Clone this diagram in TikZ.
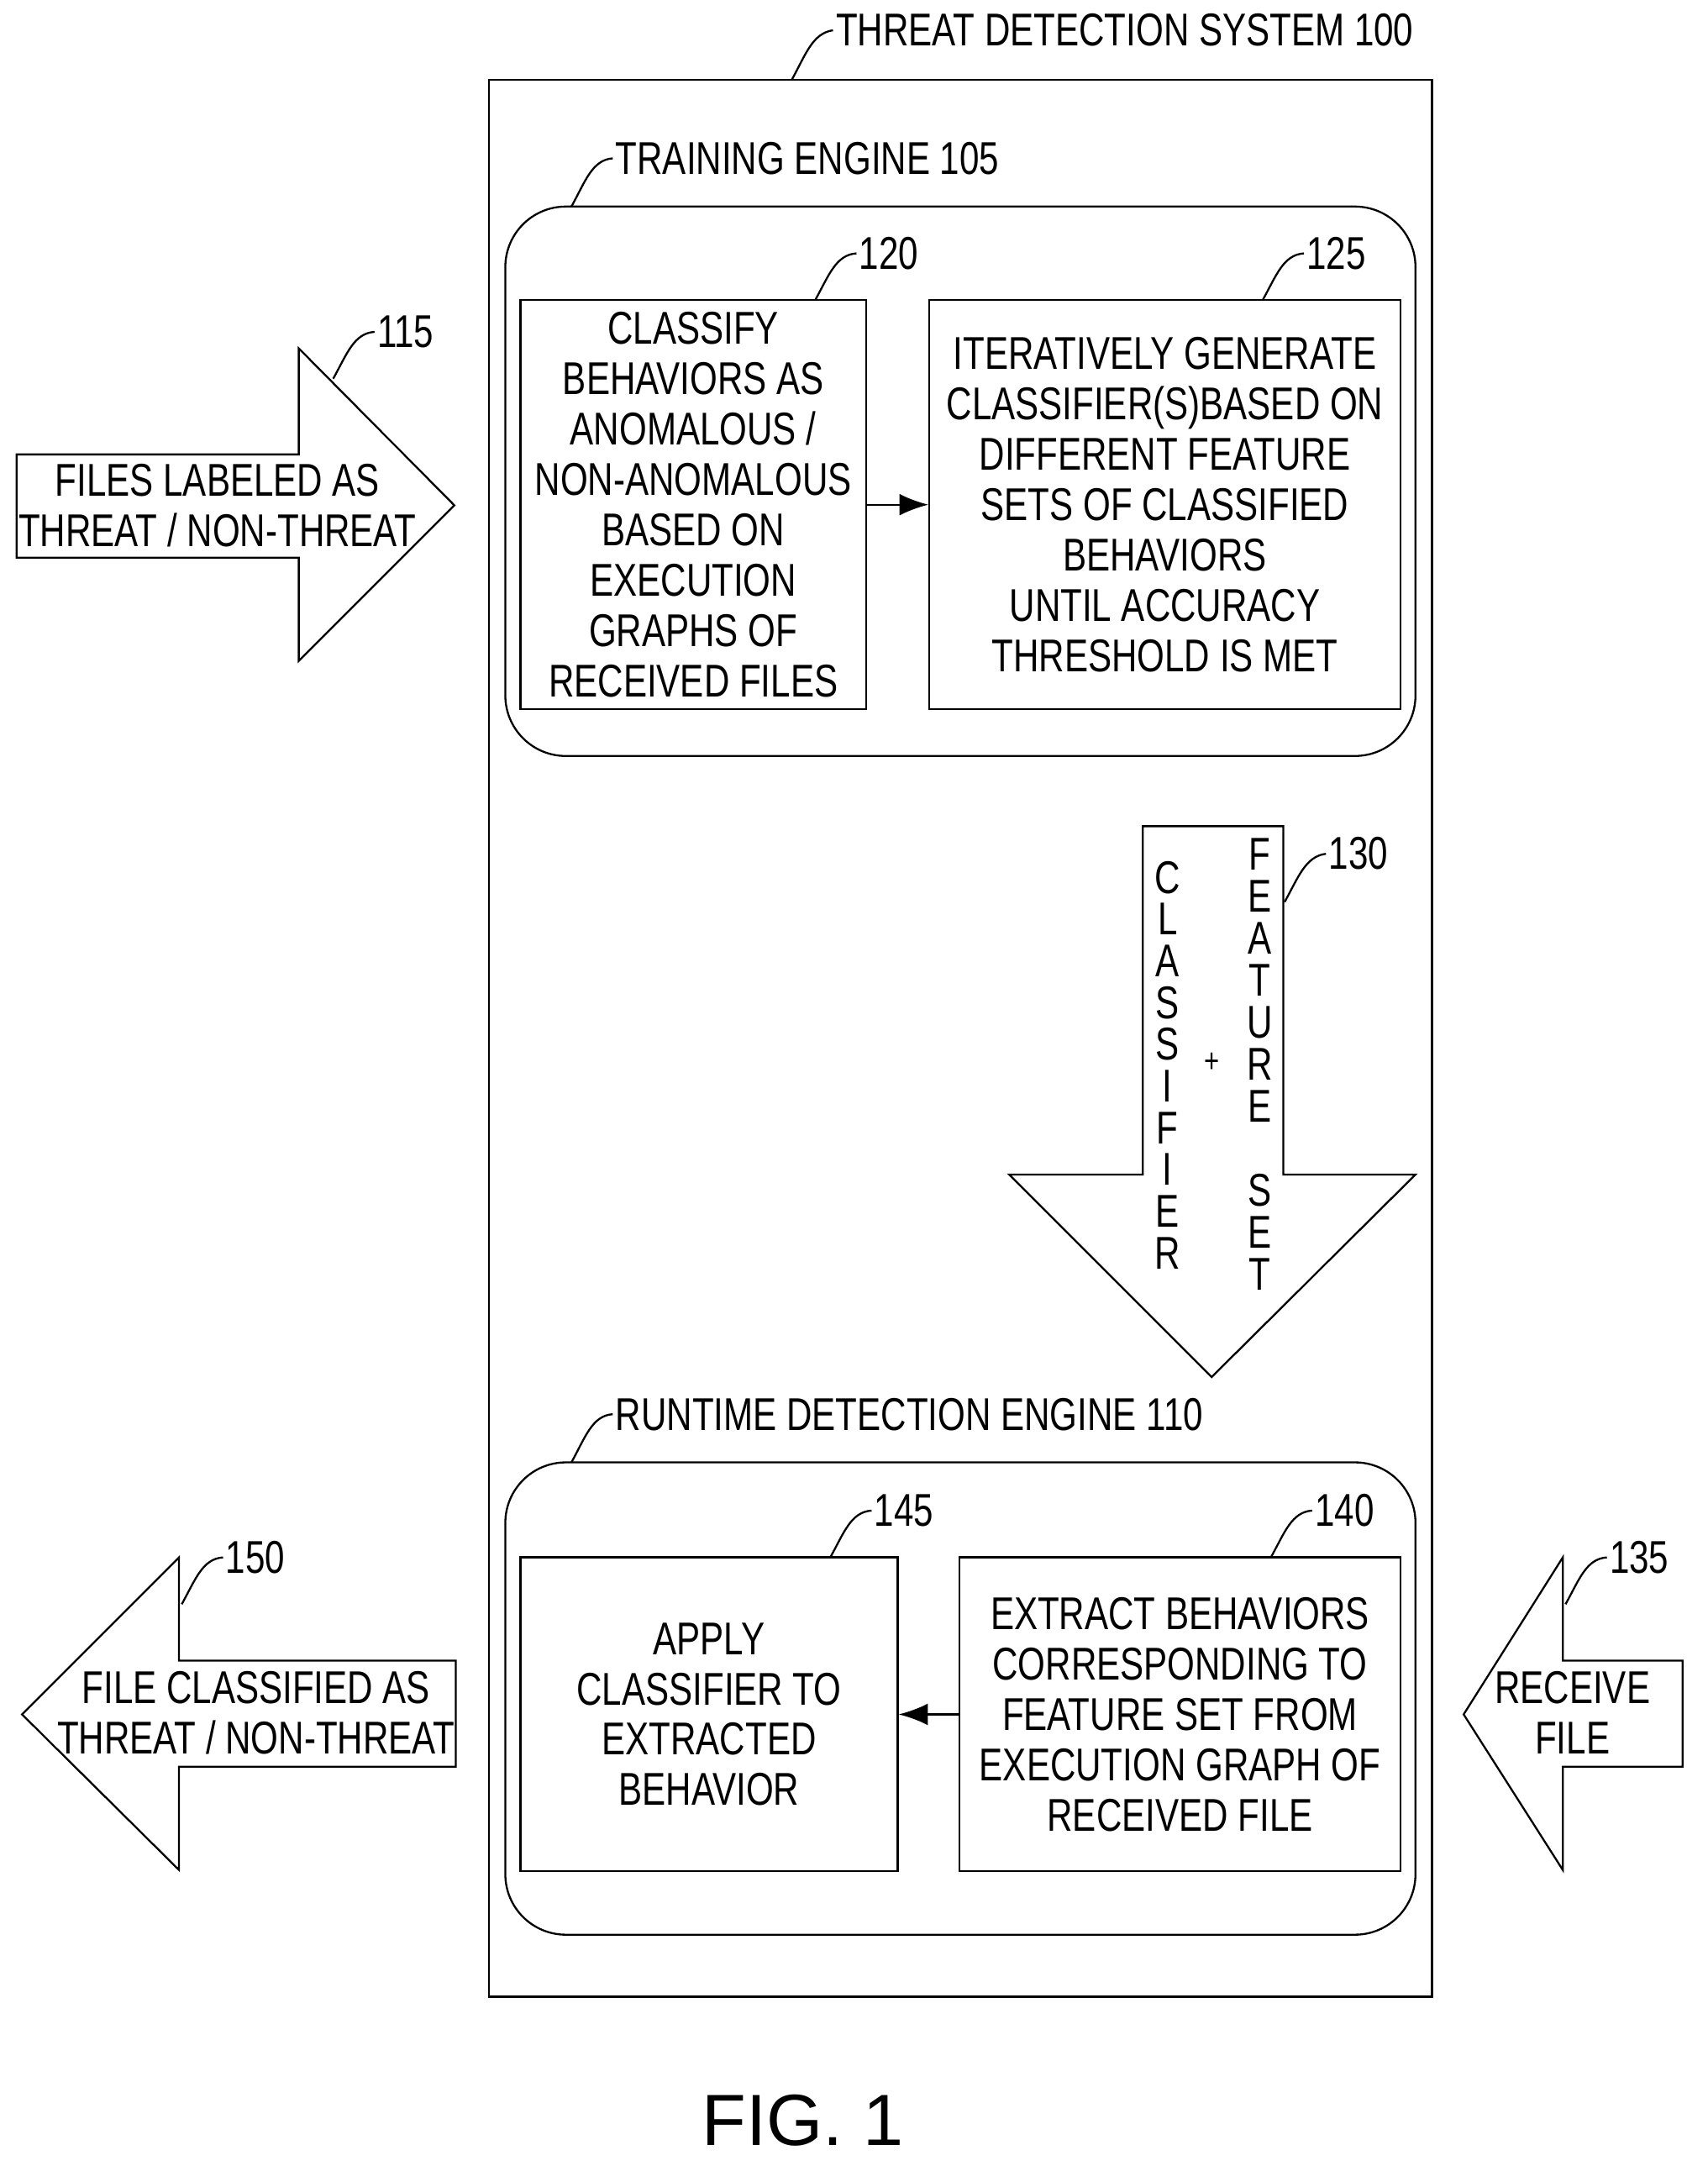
\documentclass[tikz,border=0pt]{standalone}
\usepackage{fontspec}
\setmainfont[FakeStretch=0.77]{Liberation Sans}
\newfontfamily\figfont{Liberation Sans}
\usetikzlibrary{positioning,arrows.meta}

\tikzset{
  box/.style={draw,thick,align=center,inner sep=0pt},
  engine/.style={draw,thick,rounded corners=25pt},
  lbl/.style={anchor=west,inner sep=1pt},
  lead/.style={thick},
  blk/.style={draw,thick,fill=white,line join=miter},
}

\begin{document}
\begin{tikzpicture}[x=0.02cm,y=-0.02cm,font=\fontsize{19}{20.8}\selectfont]
  \useasboundingbox (0,0) rectangle (1240,1573);

  % system
  \draw[thick] (355,58) rectangle (1040,1450);
  \node[lbl] (sys) at (605,22) {THREAT DETECTION SYSTEM 100};
  \draw[lead] (575,58) .. controls (585,40) and (590,24) .. (sys.west);

  % training engine
  \draw[engine] (367,150) rectangle (1028,549);
  \node[lbl] (train) at (445,115) {TRAINING ENGINE 105};
  \draw[lead] (415,150) .. controls (425,132) and (430,116) .. (train.west);

  \node[box,minimum width=251*0.02cm,minimum height=297*0.02cm] (classify) at (503.5,366.5)
    {CLASSIFY\\BEHAVIORS AS\\ANOMALOUS /\\NON-ANOMALOUS\\BASED ON\\EXECUTION\\GRAPHS OF\\RECEIVED FILES};
  \node[box,minimum width=342*0.02cm,minimum height=297*0.02cm] (iterate) at (846,366.5)
    {ITERATIVELY GENERATE\\CLASSIFIER(S)BASED ON\\DIFFERENT FEATURE\\SETS OF CLASSIFIED\\BEHAVIORS\\UNTIL ACCURACY\\THRESHOLD IS MET};
  \draw[thick,-{Latex[length=12pt]}] (classify.east) -- (iterate.west);
  \node[lbl] (n120) at (622,184) {120};
  \draw[lead] (592,218) .. controls (602,200) and (607,185) .. (n120.west);
  \node[lbl] (n125) at (947,184) {125};
  \draw[lead] (917,218) .. controls (927,200) and (932,185) .. (n125.west);

  % input arrow 115
  \draw[blk] (12,330) -- (217,330) -- (217,253) -- (330,367) -- (217,480) -- (217,405) -- (12,405) -- cycle;
  \node[align=center] (files) at (158,367) {FILES LABELED AS\\THREAT / NON-THREAT};
  \node[lbl] (n115) at (272,241) {115};
  \draw[lead] (242,275) .. controls (252,257) and (257,242) .. (n115.west);

  % down arrow 130
  \draw[blk] (830,600) -- (932,600) -- (932,853) -- (1028,853) -- (880,1000) -- (733,853) -- (830,853) -- cycle;
  \foreach \ch [count=\i] in {C,L,A,S,S,I,F,I,E,R}
    \node[inner sep=0pt] (cl\i) at (848,607+30.3*\i) {\ch};
  \foreach \ch [count=\i] in {F,E,A,T,U,R,E,{},S,E,T}
    \node[inner sep=0pt] (fs\i) at (915,590+30.5*\i) {\ch};
  \node (plus) at (880,772) {\fontsize{14}{14}\selectfont +};
  \node[lbl] (n130) at (963,620) {130};
  \draw[lead] (933,655) .. controls (943,637) and (948,622) .. (n130.west);

  % runtime engine
  \draw[engine] (367,1062) rectangle (1028,1405);
  \node[lbl] (runtime) at (445,1027) {RUNTIME DETECTION ENGINE 110};
  \draw[lead] (415,1062) .. controls (425,1044) and (430,1028) .. (runtime.west);

  \node[box,minimum width=274*0.02cm,minimum height=228*0.02cm] (apply) at (515,1245)
    {APPLY\\CLASSIFIER TO\\EXTRACTED\\BEHAVIOR};
  \node[box,minimum width=320*0.02cm,minimum height=228*0.02cm] (extract) at (857,1245)
    {EXTRACT BEHAVIORS\\CORRESPONDING TO\\FEATURE SET FROM\\EXECUTION GRAPH OF\\RECEIVED FILE};
  \draw[thick,-{Latex[length=12pt]}] (extract.west) -- (apply.east);
  \node[lbl] (n145) at (633,1097) {145};
  \draw[lead] (603,1131) .. controls (613,1113) and (618,1098) .. (n145.west);
  \node[lbl] (n140) at (953,1097) {140};
  \draw[lead] (923,1131) .. controls (933,1113) and (938,1098) .. (n140.west);

  % output arrow 150
  \draw[blk] (331,1206) -- (130,1206) -- (130,1131) -- (16,1245) -- (130,1358) -- (130,1283) -- (331,1283) -- cycle;
  \node[align=center] (out) at (186,1244) {FILE CLASSIFIED AS\\THREAT / NON-THREAT};
  \node[lbl] (n150) at (162,1131) {150};
  \draw[lead] (132,1165) .. controls (142,1147) and (147,1132) .. (n150.west);

  % input arrow 135
  \draw[blk] (1222,1206) -- (1135,1206) -- (1135,1131) -- (1063,1245) -- (1135,1358) -- (1135,1283) -- (1222,1283) -- cycle;
  \node[align=center] (recv) at (1142,1244) {RECEIVE\\FILE};
  \node[lbl] (n135) at (1167,1131) {135};
  \draw[lead] (1137,1165) .. controls (1147,1147) and (1152,1132) .. (n135.west);

  \node (fig) at (583,1540) {\figfont\fontsize{30}{34}\selectfont FIG. 1};
\end{tikzpicture}
\end{document}
